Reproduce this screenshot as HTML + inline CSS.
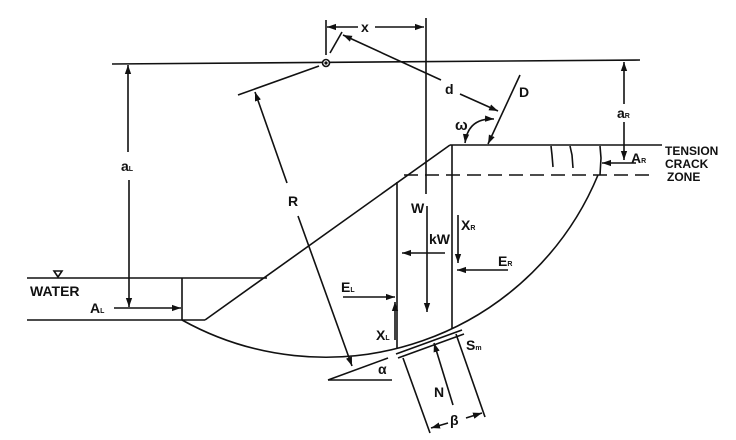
<!DOCTYPE html>
<html><head><meta charset="utf-8"><style>
html,body{margin:0;padding:0;background:#fff;}
svg{display:block;}
text{font-family:"Liberation Sans",sans-serif;font-weight:bold;fill:#111;}
</style></head><body>
<svg width="736" height="440" viewBox="0 0 736 440" xmlns="http://www.w3.org/2000/svg">
<defs>
<marker id="a" viewBox="0 0 10 10" refX="10" refY="5" markerWidth="9" markerHeight="9" orient="auto-start-reverse" markerUnits="userSpaceOnUse"><path d="M0,1.5 L10,5 L0,8.5 Z" fill="#111"/></marker>
</defs>
<g stroke="#111" stroke-width="1.6" fill="none">
<line x1="112" y1="64" x2="640" y2="60"/>
<circle cx="326" cy="63" r="3.5" fill="#fff"/>
<circle cx="326" cy="63" r="0.8" fill="#111"/>
<line x1="326" y1="20" x2="326" y2="55"/>
<line x1="358" y1="27" x2="327" y2="27" marker-end="url(#a)"/>
<line x1="375" y1="27" x2="424" y2="27" marker-end="url(#a)"/>
<line x1="426" y1="18" x2="426" y2="194"/>
<line x1="427" y1="206" x2="427" y2="312" marker-end="url(#a)"/>
<line x1="330" y1="53" x2="342" y2="32"/>
<line x1="441" y1="80" x2="343" y2="35" marker-end="url(#a)"/>
<line x1="460" y1="94" x2="498" y2="111" marker-end="url(#a)"/>
<line x1="520" y1="75" x2="488" y2="144" marker-end="url(#a)"/>
<path d="M465,143 Q468,118 494,119" marker-start="url(#a)" marker-end="url(#a)"/>
<line x1="450" y1="145" x2="662" y2="145"/>
<line x1="450" y1="145" x2="205" y2="320"/>
<line x1="205" y1="320" x2="182" y2="320"/>
<line x1="182" y1="278" x2="182" y2="320"/>
<line x1="27" y1="278" x2="267" y2="278"/>
<line x1="27" y1="320" x2="182" y2="320"/>
<line x1="404" y1="175" x2="652" y2="175" stroke-dasharray="14,7"/>
<path d="M551,146 L552,155 L553,167"/>
<path d="M570,146 L572,155 L573,168"/>
<path d="M600,146 L601,158 L600,175"/>
<path d="M182,320 A295 295 0 0 0 598,175"/>
<line x1="624" y1="104" x2="624" y2="62" marker-end="url(#a)"/>
<line x1="624" y1="122" x2="624" y2="160" marker-end="url(#a)"/>
<line x1="636" y1="163" x2="602" y2="163" marker-end="url(#a)"/>
<line x1="128" y1="152" x2="128" y2="65" marker-end="url(#a)"/>
<line x1="129" y1="180" x2="129" y2="307" marker-end="url(#a)"/>
<line x1="114" y1="308" x2="181" y2="308" marker-end="url(#a)"/>
<line x1="319" y1="66" x2="238" y2="95"/>
<line x1="287" y1="183" x2="255" y2="92" marker-end="url(#a)"/>
<line x1="298" y1="216" x2="352" y2="366" marker-end="url(#a)"/>
<line x1="397" y1="182" x2="397" y2="348"/>
<line x1="452" y1="145" x2="452" y2="329"/>
<line x1="396" y1="354" x2="462" y2="330"/>
<line x1="398" y1="358" x2="464" y2="334"/>
<line x1="328" y1="380" x2="392" y2="380"/>
<line x1="328" y1="380" x2="388" y2="358"/>
<line x1="445" y1="253" x2="402" y2="253" marker-end="url(#a)"/>
<line x1="458" y1="215" x2="458" y2="263" marker-end="url(#a)"/>
<line x1="508" y1="270" x2="457" y2="270" marker-end="url(#a)"/>
<line x1="343" y1="297" x2="395" y2="297" marker-end="url(#a)"/>
<line x1="395" y1="340" x2="395" y2="302" marker-end="url(#a)"/>
<line x1="403" y1="358" x2="430" y2="433"/>
<line x1="456" y1="334" x2="485" y2="417"/>
<line x1="453" y1="405" x2="434" y2="343" marker-end="url(#a)"/>
<line x1="448" y1="423" x2="431" y2="428" marker-end="url(#a)"/>
<line x1="466" y1="418" x2="482" y2="413" marker-end="url(#a)"/>
<path d="M54,271 L62,271 L58,277 Z"/>
</g>
<g font-size="14">
<text x="361" y="32">x</text>
<text x="445" y="94">d</text>
<text x="519" y="97">D</text>
<text x="455" y="130" font-size="15">ω</text>
<text x="617" y="118">a<tspan font-size="7">R</tspan></text>
<text x="631" y="163">A<tspan font-size="7">R</tspan></text>
<text x="665" y="155" font-size="12">TENSION</text>
<text x="665" y="168" font-size="12">CRACK</text>
<text x="667" y="181" font-size="12">ZONE</text>
<text x="121" y="171">a<tspan font-size="7">L</tspan></text>
<text x="30" y="296">WATER</text>
<text x="90" y="313">A<tspan font-size="7">L</tspan></text>
<text x="288" y="206">R</text>
<text x="411" y="213">W</text>
<text x="429" y="244">kW</text>
<text x="461" y="230">X<tspan font-size="7">R</tspan></text>
<text x="498" y="266">E<tspan font-size="7">R</tspan></text>
<text x="341" y="292">E<tspan font-size="7">L</tspan></text>
<text x="376" y="340">X<tspan font-size="7">L</tspan></text>
<text x="378" y="374">α</text>
<text x="466" y="350">S<tspan font-size="7">m</tspan></text>
<text x="434" y="397">N</text>
<text x="450" y="425">β</text>
</g>
</svg>
</body></html>
